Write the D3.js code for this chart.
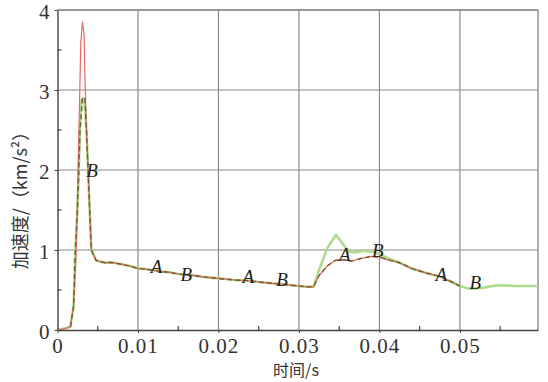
<!DOCTYPE html>
<html><head><meta charset="utf-8">
<script src="https://cdn.jsdelivr.net/npm/d3@7/dist/d3.min.js"></script>
<style>body{margin:0;background:#fff}svg{display:block}</style>
</head><body><svg id="c" width="548" height="382"></svg>
<script>
// Series B (green)
const tB = [0,0.0010,0.0016,0.0020,0.0022,0.0025,0.0028,0.0030,0.0032,0.0034,0.0036,0.0038,0.0042,0.0048,0.0055,0.0060,0.0065,0.0070,0.0080,0.0090,0.0100,0.0110,0.0120,0.0130,0.0140,0.0150,0.0160,0.0170,0.0180,0.0190,0.0200,0.0210,0.0220,0.0230,0.0240,0.0250,0.0260,0.0270,0.0280,0.0290,0.0300,0.0310,0.0318,0.0325,0.0335,0.0346,0.0355,0.0362,0.0370,0.0380,0.0390,0.0400,0.0410,0.0425,0.0440,0.0459,0.0475,0.0490,0.0500,0.0510,0.0520,0.0530,0.0540,0.0550,0.0560,0.0570,0.0580,0.0597];
const aB = [0,0.02,0.04,0.30,0.96,1.54,2.55,2.88,2.90,2.80,2.50,2.00,1.00,0.87,0.85,0.84,0.845,0.84,0.82,0.80,0.77,0.76,0.745,0.73,0.72,0.70,0.69,0.68,0.665,0.655,0.645,0.635,0.625,0.62,0.615,0.60,0.59,0.58,0.57,0.56,0.55,0.54,0.54,0.75,1.02,1.19,1.07,0.98,0.97,0.99,0.98,0.95,0.90,0.84,0.77,0.71,0.67,0.60,0.55,0.52,0.52,0.53,0.55,0.56,0.555,0.55,0.55,0.55];
// Series A (red)
const tA = [0,0.0010,0.0016,0.0020,0.0023,0.0026,0.0029,0.0031,0.0033,0.0034,0.0036,0.0038,0.0042,0.0048,0.0055,0.0060,0.0065,0.0070,0.0080,0.0090,0.0100,0.0110,0.0120,0.0130,0.0140,0.0150,0.0160,0.0170,0.0180,0.0190,0.0200,0.0210,0.0220,0.0230,0.0240,0.0250,0.0260,0.0270,0.0280,0.0290,0.0300,0.0310,0.0318,0.0325,0.0335,0.0345,0.0355,0.0365,0.0375,0.0390,0.0400,0.0410,0.0425,0.0440,0.0459,0.0475,0.0490,0.0500];
const aA = [0,0.02,0.04,0.30,0.90,2.20,3.60,3.85,3.70,3.20,2.50,2.00,1.00,0.87,0.85,0.84,0.845,0.84,0.82,0.80,0.77,0.76,0.745,0.73,0.72,0.70,0.69,0.68,0.665,0.655,0.645,0.635,0.625,0.62,0.615,0.60,0.59,0.58,0.57,0.56,0.55,0.54,0.54,0.68,0.80,0.87,0.88,0.86,0.89,0.92,0.91,0.88,0.84,0.77,0.71,0.67,0.60,0.55];
// Dashed dark trace
const tD = [0.0016,0.0020,0.0022,0.0025,0.0028,0.0031,0.0034,0.0036,0.0038,0.0042,0.0048,0.0055,0.0060,0.0065,0.0070,0.0080,0.0090,0.0100,0.0110,0.0120,0.0130,0.0140,0.0150,0.0160,0.0170,0.0180,0.0190,0.0200,0.0210,0.0220,0.0230,0.0240,0.0250,0.0260,0.0270,0.0280,0.0290,0.0300,0.0310,0.0318,0.0325,0.0335,0.0345,0.0355,0.0365,0.0375,0.0390,0.0400,0.0410,0.0425,0.0440,0.0459,0.0475,0.0490,0.0500];
const aD = [0.04,0.30,0.96,1.54,2.50,2.90,2.90,2.50,2.00,1.00,0.87,0.85,0.84,0.845,0.84,0.82,0.80,0.77,0.76,0.745,0.73,0.72,0.70,0.69,0.68,0.665,0.655,0.645,0.635,0.625,0.62,0.615,0.60,0.59,0.58,0.57,0.56,0.55,0.54,0.54,0.68,0.80,0.87,0.88,0.86,0.89,0.92,0.91,0.88,0.84,0.77,0.71,0.67,0.60,0.55];
// Curve labels
const labelText = ["B","A","B","A","B","A","B","A","B"];
const labelT = [0.0043,0.0123,0.0160,0.0237,0.0279,0.0357,0.0398,0.0477,0.0519];
const labelA = [2.0,0.80,0.69,0.67,0.63,0.94,1.00,0.70,0.60];
// Ticks
const xTicks = [0,0.01,0.02,0.03,0.04,0.05];
const xTickLabels = ["0","0.01","0.02","0.03","0.04","0.05"];
const xMinor = [0.005,0.015,0.025,0.035,0.045,0.055];
const yTicks = [0,1,2,3,4];
const yMinor = [0.5,1.5,2.5,3.5];

const svg = d3.select("#c");
const x = d3.scaleLinear().domain([0,0.0597]).range([57.5,538]);
const y = d3.scaleLinear().domain([0,4]).range([330,10]);
const serif = "'Liberation Serif','DejaVu Serif',serif";

// grid
const g = svg.append("g");
g.selectAll(".vg").data(xTicks.slice(1)).join("line")
  .attr("x1",d=>x(d)).attr("x2",d=>x(d)).attr("y1",y(0)).attr("y2",y(4))
  .attr("stroke","#8a8a8a").attr("stroke-width",1.2);
g.selectAll(".hg").data(yTicks.slice(1)).join("line")
  .attr("y1",d=>y(d)).attr("y2",d=>y(d)).attr("x1",x(0)).attr("x2",x(0.0597))
  .attr("stroke","#8a8a8a").attr("stroke-width",1.2);
g.append("line").attr("x1",x(0.0597)).attr("x2",x(0.0597)).attr("y1",y(0)).attr("y2",y(4))
  .attr("stroke","#8a8a8a").attr("stroke-width",1.4);

// lines
const line = (ts)=>d3.line().x((d,i)=>x(ts[i])).y(d=>y(d));
svg.append("path").attr("d",line(tB)(aB)).attr("fill","none")
  .attr("stroke","#aedb90").attr("stroke-width",2.6).attr("stroke-linejoin","round");
svg.append("path").attr("d",line(tA)(aA)).attr("fill","none")
  .attr("stroke","#e46a6a").attr("stroke-width",1.2).attr("stroke-linejoin","round");
svg.append("path").attr("d",line(tD)(aD)).attr("fill","none")
  .attr("stroke","#75602a").attr("stroke-width",1.4).attr("stroke-dasharray","5,3")
  .attr("stroke-linejoin","round");

// axes
const xAxis = d3.axisBottom(x).tickValues(xTicks).tickFormat((d,i)=>xTickLabels[i]).tickSize(3).tickSizeOuter(0);
const ax = svg.append("g").attr("transform",`translate(0,${y(0)})`).call(xAxis);
ax.select(".domain").attr("stroke","#444").attr("stroke-width",1.4);
ax.selectAll(".tick line").attr("stroke","#444");
ax.selectAll("text").attr("font-family",serif).attr("font-size",21).attr("letter-spacing",1)
  .attr("fill","#333").attr("dy","0.8em");
svg.append("g").selectAll("line").data(xMinor).join("line")
  .attr("x1",d=>x(d)).attr("x2",d=>x(d)).attr("y1",y(0)).attr("y2",y(0)-4)
  .attr("stroke","#444").attr("stroke-width",1.2);

const yAxis = d3.axisLeft(y).tickValues(yTicks).tickFormat(d3.format("d")).tickSize(3).tickSizeOuter(0);
const ay = svg.append("g").attr("transform",`translate(${x(0)},0)`).call(yAxis);
ay.select(".domain").attr("stroke","#444").attr("stroke-width",1.4);
ay.selectAll(".tick line").attr("stroke","#444");
ay.selectAll("text").attr("font-family",serif).attr("font-size",21).attr("fill","#333")
  .attr("x",-8).attr("dy","0.42em");
svg.append("g").selectAll("line").data(yMinor).join("line")
  .attr("x1",x(0)).attr("x2",x(0)+4).attr("y1",d=>y(d)).attr("y2",d=>y(d))
  .attr("stroke","#444").attr("stroke-width",1.2);

svg.append("line").attr("x1",x(0)).attr("x2",x(0.0597)).attr("y1",y(4)).attr("y2",y(4))
  .attr("stroke","#8a8a8a").attr("stroke-width",1.4);

// curve labels
svg.append("g").selectAll("text").data(labelText).join("text")
  .attr("x",(d,i)=>x(labelT[i])).attr("y",(d,i)=>y(labelA[i]))
  .attr("text-anchor","middle").attr("dominant-baseline","central")
  .attr("font-family",serif).attr("font-style","italic").attr("font-size",19).attr("fill","#222")
  .text(d=>d);

// axis titles
svg.append("text").attr("x",296).attr("y",376).attr("text-anchor","middle")
  .attr("font-family","'Noto Sans CJK SC',sans-serif").attr("font-size",16).attr("fill","#333")
  .text("时间/s");
svg.append("text").attr("transform","translate(27,196) rotate(-90)").attr("text-anchor","middle")
  .attr("font-family","'Noto Sans CJK SC',sans-serif").attr("font-size",18).attr("fill","#333")
  .text("加速度/（km/s²）");
</script></body></html>
